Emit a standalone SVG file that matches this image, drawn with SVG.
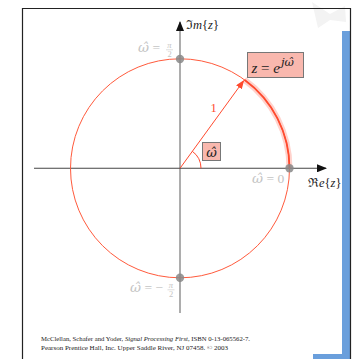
<svg xmlns="http://www.w3.org/2000/svg" width="352" height="359" viewBox="0 0 352 359">
<defs>
<style>
.m{font-family:"Liberation Serif","DejaVu Serif",serif;}
.w{font-family:"DejaVu Serif",serif;font-style:italic;}
.it{font-style:italic;}
.lg{fill:#c4c4c4;}
.dk{fill:#222;}
.dot{fill:#888;fill-opacity:0.85;}
.box{fill:#f9b8ae;stroke:#777;stroke-width:1;}
</style>
<marker id="ab" markerWidth="10" markerHeight="8" refX="9" refY="4" orient="auto" markerUnits="userSpaceOnUse">
<path d="M0,0 L10,4 L0,8 z" fill="#111"/>
</marker>
<marker id="ar" markerWidth="9" markerHeight="7" refX="8" refY="3.5" orient="auto" markerUnits="userSpaceOnUse">
<path d="M0,0 L9,3.5 L0,7 z" fill="#ff4a2e"/>
</marker>
</defs>
<rect width="352" height="359" fill="#fff"/>
<path d="M312,2 L330,14 L345,6 L346,22 L330,20 L318,28 Z" fill="#f3f3f3"/>
<rect x="342" y="31" width="8" height="328" fill="#6a9fdc"/>
<rect x="313" y="354" width="29" height="5" fill="#6a9fdc"/>
<path d="M22.5,360 V8.5 H350.5 V360" fill="none" stroke="#222" stroke-width="1.2"/>

<g id="connectors">
<line x1="180" y1="313" x2="180" y2="22" stroke="#999" stroke-width="1.6" marker-end="url(#ab)"/>
<line x1="34" y1="168.3" x2="326" y2="168.3" stroke="#444" stroke-width="1.1" marker-end="url(#ab)"/>
<circle cx="180" cy="168.3" r="109.5" fill="none" stroke="#ff5a3c" stroke-width="1"/>
<path d="M289.5,168.3 A109.5,109.5 0 0 0 244.4,79.7" fill="none" stroke="#ff6a55" stroke-opacity="0.3" stroke-width="6"/>
<path d="M289.5,168.3 A109.5,109.5 0 0 0 244.4,79.7" fill="none" stroke="#ff4a2e" stroke-width="1.8"/>
<line x1="180" y1="168.3" x2="243.6" y2="80.8" stroke="#ff4a2e" stroke-width="1" marker-end="url(#ar)"/>
<path d="M201,168.3 A21,21 0 0 0 192.3,151.3" fill="none" stroke="#ff4a2e" stroke-width="1"/>
</g>

<g id="dot-top"><circle class="dot" cx="180" cy="59" r="4.2"/></g>
<g id="dot-right"><circle class="dot" cx="289.5" cy="168.3" r="4.2"/></g>
<g id="dot-bottom"><circle class="dot" cx="180" cy="277.8" r="4.2"/></g>

<g id="label-im">
<text class="m dk" x="186" y="29" font-size="12.5">ℑ<tspan class="it">m</tspan>{<tspan class="it">z</tspan>}</text>
</g>
<g id="label-re">
<text class="m dk" x="308" y="187" font-size="12.5">ℜ<tspan class="it">e</tspan>{<tspan class="it">z</tspan>}</text>
</g>

<g id="label-w-pi2">
<text class="m lg" x="138" y="52" font-size="13.5"><tspan class="w">ω̂</tspan> =</text>
<text class="m lg it" x="169.5" y="48" font-size="8.5" text-anchor="middle">π</text>
<line x1="166" y1="49.8" x2="173" y2="49.8" stroke="#c4c4c4" stroke-width="0.6"/>
<text class="m lg" x="169.5" y="56.5" font-size="8.5" text-anchor="middle">2</text>
</g>

<g id="label-w-0">
<text class="m lg" x="252" y="183" font-size="13.5"><tspan class="w">ω̂</tspan> = 0</text>
</g>

<g id="label-w-mpi2">
<text class="m lg" x="130" y="292" font-size="13.5"><tspan class="w">ω̂</tspan> = −</text>
<text class="m lg it" x="171" y="288" font-size="8.5" text-anchor="middle">π</text>
<line x1="167.5" y1="289.8" x2="174.5" y2="289.8" stroke="#c4c4c4" stroke-width="0.6"/>
<text class="m lg" x="171" y="296.5" font-size="8.5" text-anchor="middle">2</text>
</g>

<g id="label-1">
<text class="m" x="213.5" y="111.5" font-size="12.5" fill="#ff4a2e" text-anchor="middle">1</text>
</g>

<g id="box-z">
<rect class="box" x="247.5" y="52.5" width="56" height="25"/>
<text class="m dk" x="251.5" y="72.5" font-size="15"><tspan class="it">z</tspan> = <tspan class="it">e</tspan><tspan class="w" font-size="11.5" dy="-7" dx="1">jω̂</tspan></text>
</g>

<g id="box-w">
<rect class="box" x="202.5" y="142.5" width="18" height="18"/>
<text class="m dk" x="211.5" y="156.5" font-size="13" text-anchor="middle"><tspan class="w">ω̂</tspan></text>
</g>

<g id="caption">
<text class="m" x="41" y="340.5" font-size="7" fill="#222" textLength="209" lengthAdjust="spacingAndGlyphs">McClellan, Schafer and Yoder, <tspan class="it">Signal Processing First</tspan>, ISBN 0-13-065562-7.</text>
<text class="m" x="41" y="349.5" font-size="7" fill="#222" textLength="187" lengthAdjust="spacingAndGlyphs">Pearson Prentice Hall, Inc. Upper Saddle River, NJ 07458. © 2003</text>
</g>
</svg>
